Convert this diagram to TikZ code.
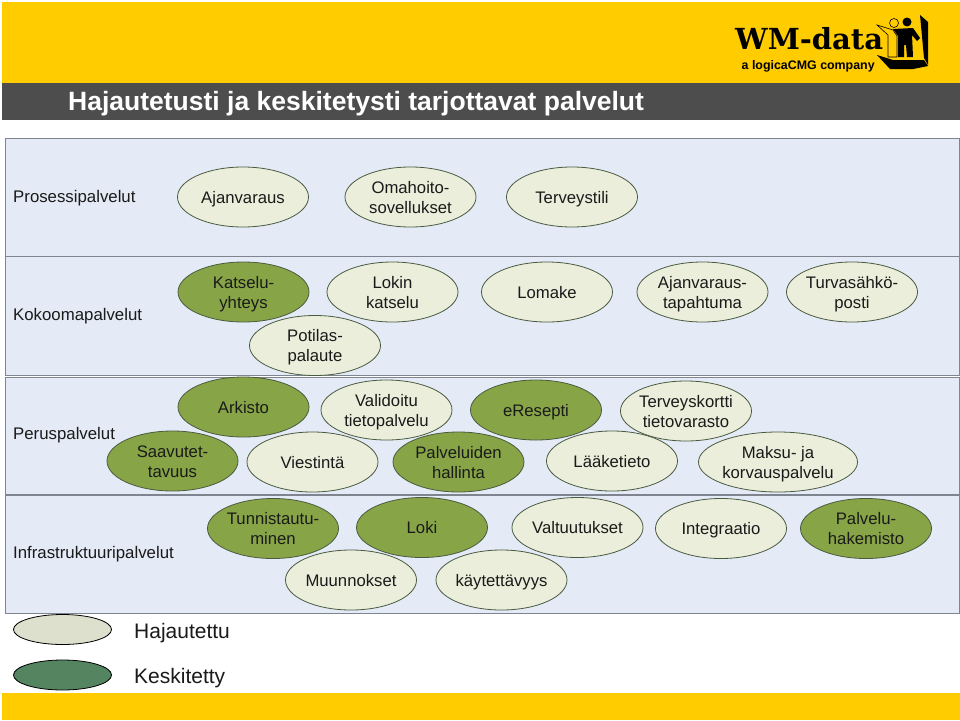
\documentclass[tikz,border=0pt]{standalone}
\usepackage{fontspec}
\setmainfont{Liberation Sans}
\newfontfamily\logofont{DejaVu Serif}
\usetikzlibrary{shapes.geometric}
\definecolor{bandy}{HTML}{FFCC00}
\definecolor{bandg}{HTML}{4D4D4D}
\definecolor{panelc}{HTML}{E4EBF6}
\definecolor{panelb}{HTML}{7F858E}
\definecolor{hajc}{HTML}{EBEEDB}
\definecolor{kesc}{HTML}{87A546}
\definecolor{ovl}{HTML}{4A5A40}
\definecolor{txt}{HTML}{1A1A1A}
\definecolor{leghaj}{HTML}{DDE0CC}
\definecolor{legkes}{HTML}{548560}
\newcommand{\ovtext}[1]{\makebox[0pt]{\raisebox{-6.5pt}[0pt][0pt]{\begin{tabular}{@{}c@{}}#1\end{tabular}}}}
\tikzset{x=1pt,y=-1pt,
 panel/.style={fill=panelc,draw=panelb,line width=1pt},
 ovalbase/.style={ellipse,minimum width=131pt,minimum height=60pt,inner sep=0pt,draw=ovl,line width=.8pt,font=\fontsize{16.7}{20}\selectfont,text=txt},
 haj/.style={ovalbase,fill=hajc},
 kes/.style={ovalbase,fill=kesc},
 rowlabel/.style={anchor=west,inner sep=0pt,font=\fontsize{16.8}{20}\selectfont,text=txt},
 legendoval/.style={ellipse,minimum width=98pt,minimum height=30pt,inner sep=0pt,draw=black,line width=.8pt},
 legendtext/.style={anchor=west,inner sep=0pt,font=\fontsize{21}{25}\selectfont,text=txt}}
\begin{document}
\begin{tikzpicture}
\useasboundingbox (0,0) rectangle (960,720);
\fill[white] (0,0) rectangle (960,720);
\fill[bandy] (2,2) rectangle (960,83);
\fill[bandg] (2,83) rectangle (960,120);
\fill[bandy] (2,693) rectangle (960,720);
\node[anchor=west,inner sep=0pt,text=white,font=\bfseries\fontsize{26.5}{30}\selectfont] (title) at (68,103.5) {Hajautetusti ja keskitetysti tarjottavat palvelut};
% panels
\draw[panel] (5,138) rectangle (959,256);
\draw[panel] (5,256) rectangle (959,375);
\draw[panel] (5,377) rectangle (959,494);
\draw[panel] (5,495) rectangle (959,613);
% row labels
\node[rowlabel] (r1) at (13,198) {Prosessipalvelut};
\node[rowlabel] (r2) at (13,316) {Kokoomapalvelut};
\node[rowlabel] (r3) at (13,435) {Peruspalvelut};
\node[rowlabel] (r4) at (13,554) {Infrastruktuuripalvelut};
% row 1
\node[haj] (a1) at (243,197) {\ovtext{Ajanvaraus}};
\node[haj] (a2) at (410.5,197) {\ovtext{Omahoito-\\sovellukset}};
\node[haj] (a3) at (572,197) {\ovtext{Terveystili}};
% row 2
\node[kes] (b1) at (243.5,292) {\ovtext{Katselu-\\yhteys}};
\node[haj] (b2) at (392.5,292) {\ovtext{Lokin\\katselu}};
\node[haj] (b3) at (547,292) {\ovtext{Lomake}};
\node[haj] (b4) at (702.5,292) {\ovtext{Ajanvaraus-\\tapahtuma}};
\node[haj] (b5) at (852,292) {\ovtext{Turvasähkö-\\posti}};
\node[haj] (b6) at (315,345.5) {\ovtext{Potilas-\\palaute}};
% row 3
\node[kes] (c1) at (243.5,407) {\ovtext{Arkisto}};
\node[haj] (c2) at (386.5,410) {\ovtext{Validoitu\\tietopalvelu}};
\node[kes] (c3) at (536,410) {\ovtext{eResepti}};
\node[kes] (c5) at (172.5,461) {\ovtext{Saavutet-\\tavuus}};
\node[haj] (c6) at (312.5,462) {\ovtext{Viestintä}};
\node[kes] (c7) at (458.5,462) {\ovtext{Palveluiden\\hallinta}};
\node[haj] (c8) at (612,461) {\ovtext{Lääketieto}};
\node[haj] (c4) at (686,411) {\ovtext{Terveyskortti\\tietovarasto}};
\node[haj,minimum width=159pt] (c9) at (778,462) {\ovtext{Maksu- ja\\korvauspalvelu}};
% row 4
\node[kes] (d1) at (273,528.5) {\ovtext{Tunnistautu-\\minen}};
\node[kes] (d2) at (422,527.5) {\ovtext{Loki}};
\node[haj] (d3) at (577.5,527.5) {\ovtext{Valtuutukset}};
\node[haj] (d4) at (721,528.5) {\ovtext{Integraatio}};
\node[kes] (d5) at (866,528.5) {\ovtext{Palvelu-\\hakemisto}};
\node[haj] (d6) at (351,580) {\ovtext{Muunnokset}};
\node[haj] (d7) at (501.5,580) {\ovtext{käytettävyys}};
% legend
\node[legendoval,fill=leghaj] (l1) at (62.5,629.5) {};
\node[legendoval,fill=legkes] (l2) at (62.5,675) {};
\node[legendtext] (l1t) at (134,633) {Hajautettu};
\node[legendtext] (l2t) at (134,678) {Keskitetty};
% logo
\fill[black] (907,22) circle (4.5);
\draw[black,line width=.6pt] (894,23) circle (4.5);
\draw[black,line width=.6pt] (877,25) -- (893,30) -- (897,36) -- (897,57) -- (888,57) -- (888,35) -- cycle;
\fill[black] (893,29) -- (913,28) -- (920,38) -- (917,41) -- (912,35) -- (913,57) -- (907,57) -- (906,45) -- (904,45) -- (904,57) -- (898,57) -- (898,36) -- cycle;
\fill[black] (920,15) -- (928,22) -- (928,65) -- (924,58) -- cycle;
\fill[black] (877,55) -- (893,60) -- (924,60) -- (928,66) -- (913,69) -- (890,69) -- cycle;
\node[anchor=base west,inner sep=0pt,font=\logofont\bfseries\fontsize{29}{29}\selectfont,text=black] (logo) at (735,49) {WM-data};
\node[anchor=base west,inner sep=0pt,font=\bfseries\fontsize{12.4}{12.4}\selectfont,text=black] (logo2) at (741.5,69) {a logicaCMG company};
\end{tikzpicture}
\end{document}
